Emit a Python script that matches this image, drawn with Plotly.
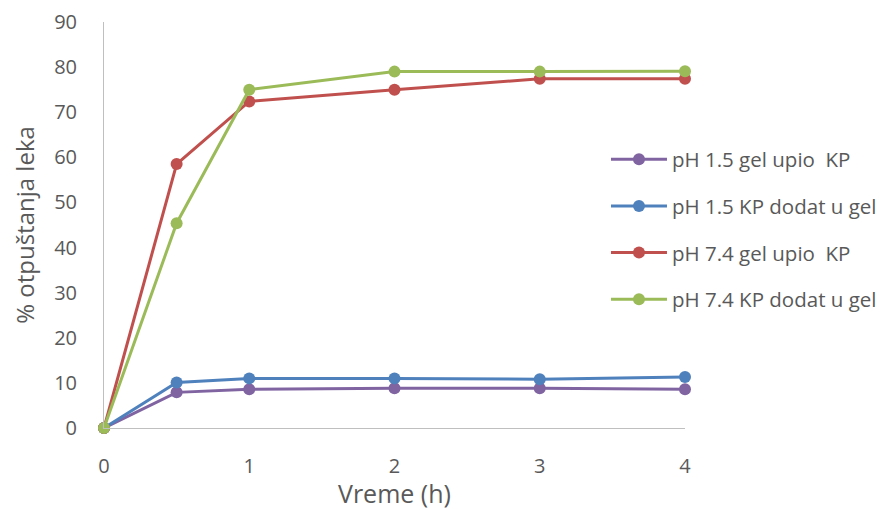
import plotly.graph_objects as go

# Vreme (h)
vreme = [0, 0.5, 1, 2, 3, 4]

# % otpuštanja leka per series
ph15_gel_upio = [0, 7.9, 8.6, 8.8, 8.8, 8.6]
ph15_kp_dodat = [0, 10.1, 11.0, 11.0, 10.8, 11.3]
ph74_gel_upio = [0, 58.5, 72.4, 75.0, 77.4, 77.4]
ph74_kp_dodat = [0, 45.4, 75.0, 79.0, 79.0, 79.1]

series_names = [
    "pH 1.5 gel upio  KP",
    "pH 1.5 KP dodat u gel",
    "pH 7.4 gel upio  KP",
    "pH 7.4 KP dodat u gel",
]
series_values = [ph15_gel_upio, ph15_kp_dodat, ph74_gel_upio, ph74_kp_dodat]
series_colors = ["#8064A2", "#4F81BD", "#C0504D", "#9BBB59"]

FONT = "'Open Sans', sans-serif"
TEXT = "#595959"

fig = go.Figure()
for i, (name, vals, col) in enumerate(zip(series_names, series_values, series_colors)):
    fig.add_trace(go.Scatter(
        x=vreme, y=vals,
        mode="lines+markers", name=name,
        line=dict(color=col, width=3),
        marker=dict(color=col, size=12),
        legendgroup=f"g{i}",
        cliponaxis=False,
    ))

# page body has an 8px margin, so the margins are trimmed to match
fig.update_layout(
    width=886, height=510,
    paper_bgcolor="white", plot_bgcolor="white",
    margin=dict(l=96, r=209, t=14, b=90, autoexpand=False),
    font=dict(family=FONT, color=TEXT, size=20),
    showlegend=True,
    legend=dict(
        x=0.864, xanchor="left", y=0.489, yanchor="middle",
        bgcolor="rgba(0,0,0,0)",
        font=dict(size=20.5, color=TEXT),
        tracegroupgap=17,
        itemwidth=56,
    ),
    xaxis=dict(
        range=[0, 4], tickvals=[0, 1, 2, 3, 4],
        showgrid=False, zeroline=False,
        showline=True, linecolor="#BFBFBF", linewidth=1,
        ticks="", ticklabelstandoff=20, ticklabeloverflow="allow",
    ),
    yaxis=dict(
        range=[0, 90], dtick=10,
        showgrid=False, zeroline=False,
        showline=True, linecolor="#BFBFBF", linewidth=1,
        ticks="", ticklabelstandoff=22, ticklabeloverflow="allow",
        title=dict(text="% otpuštanja leka", font=dict(size=24, color=TEXT), standoff=20),
    ),
)

# x-axis title as an annotation so it sits a bit higher than the axis title would
fig.add_annotation(
    text="Vreme (h)", xref="paper", yref="paper", x=0.5, y=0,
    xanchor="center", yanchor="middle", yshift=-65, showarrow=False,
    font=dict(size=25, color=TEXT),
)

fig.write_html("out.html")
